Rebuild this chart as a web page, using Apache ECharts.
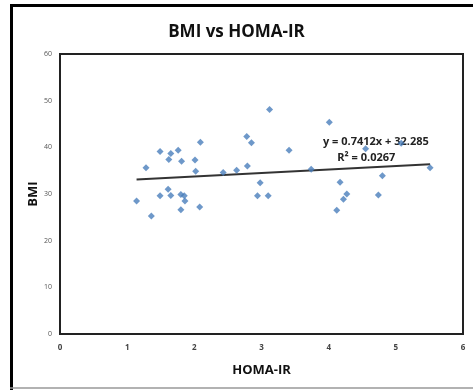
<!DOCTYPE html>
<html>
<head>
<meta charset="utf-8">
<script src="https://cdn.jsdelivr.net/npm/echarts@6/dist/echarts.min.js"></script>
<style>
  html, body { margin: 0; padding: 0; background: #fff; }
  #chart { width: 473px; height: 390px; }
</style>
</head>
<body>
<div id="chart"></div>
<script>
// HOMA-IR (x) and BMI (y)
const homa = [3.12, 1.49, 1.65, 1.76, 1.62, 1.81, 2.09, 2.01, 2.02, 1.28,
              1.14, 1.36, 1.61, 1.49, 1.65, 1.80, 1.85, 1.86, 1.80, 2.08,
              2.43, 2.63, 2.78, 2.85, 2.79, 2.98, 2.94, 3.10, 3.41, 4.01,
              4.55, 5.08, 3.74, 5.51, 4.17, 4.80, 4.27, 4.22, 4.74, 4.12]
const bmi = [48.1, 39.1, 38.7, 39.4, 37.4, 37.0, 41.1, 37.3, 34.9, 35.6,
             28.5, 25.3, 31.0, 29.6, 29.7, 29.9, 29.6, 28.5, 26.6, 27.2,
             34.6, 35.1, 42.3, 41.0, 36.0, 32.4, 29.6, 29.6, 39.4, 45.4,
             39.7, 40.9, 35.3, 35.6, 32.5, 33.9, 30.0, 28.9, 29.8, 26.5]
const slope = 0.7412
const intercept = 32.285
const r2 = '0.0267'
const xTicks = [0, 1, 2, 3, 4, 5, 6]
const yTicks = [0, 10, 20, 30, 40, 50, 60]

const points = homa.map((x, i) => [x, bmi[i]])
const xMin = Math.min(...homa)
const xMax = Math.max(...homa)
const trend = [[xMin, slope * xMin + intercept], [xMax, slope * xMax + intercept]]

const chart = echarts.init(document.getElementById('chart'))
chart.setOption({
  animation: false,
  title: {
    text: 'BMI vs HOMA-IR',
    left: 'center',
    top: 19,
    textStyle: { fontFamily: 'Open Sans', fontWeight: 'bold', fontSize: 17, color: '#111' }
  },
  grid: { left: 60, top: 54, right: 10, bottom: 56, show: true, borderColor: '#222', borderWidth: 2 },
  xAxis: {
    type: 'value',
    min: xTicks[0], max: xTicks[xTicks.length - 1], interval: 1,
    name: 'HOMA-IR', nameLocation: 'middle', nameGap: 30, nameMoveOverlap: false,
    nameTextStyle: { fontFamily: 'Open Sans', fontWeight: 'bold', fontSize: 13, color: '#111' },
    axisLine: { show: true, lineStyle: { color: '#222', width: 2 } },
    axisTick: { show: false },
    splitLine: { show: false },
    axisLabel: { fontFamily: 'Open Sans', fontWeight: 'bold', fontSize: 8, color: '#444', margin: 10 }
  },
  yAxis: {
    type: 'value',
    min: yTicks[0], max: yTicks[yTicks.length - 1], interval: 10,
    name: 'BMI', nameLocation: 'middle', nameGap: 20, nameRotate: 90, nameMoveOverlap: false,
    nameTextStyle: { fontFamily: 'Open Sans', fontWeight: 'bold', fontSize: 13, color: '#111' },
    axisLine: { show: true, lineStyle: { color: '#222', width: 2 } },
    axisTick: { show: false },
    splitLine: { show: false },
    axisLabel: { fontFamily: 'Open Sans', fontSize: 7, color: '#555', margin: 8 }
  },
  graphic: [
    { type: 'line', shape: { x1: 11.5, y1: 4, x2: 11.5, y2: 390 }, style: { stroke: '#000', lineWidth: 3 } },
    { type: 'line', shape: { x1: 10, y1: 5.5, x2: 473, y2: 5.5 }, style: { stroke: '#000', lineWidth: 3 } },
    { type: 'line', shape: { x1: 10, y1: 388, x2: 473, y2: 388 }, style: { stroke: '#999', lineWidth: 1.5 } },
    {
      type: 'text', left: 323, top: 134,
      style: {
        text: 'y = ' + slope + 'x + ' + intercept + '\n     R² = ' + r2,
        font: 'bold 11px "Open Sans"', fill: '#222', lineHeight: 16
      }
    }
  ],
  series: [
    {
      type: 'line',
      data: trend,
      symbol: 'none',
      lineStyle: { color: '#333', width: 2 },
      z: 1
    },
    {
      type: 'scatter',
      data: points,
      symbol: 'diamond',
      symbolSize: 7,
      itemStyle: { color: '#4a7ebb' },
      z: 2
    }
  ]
})
</script>
</body>
</html>
